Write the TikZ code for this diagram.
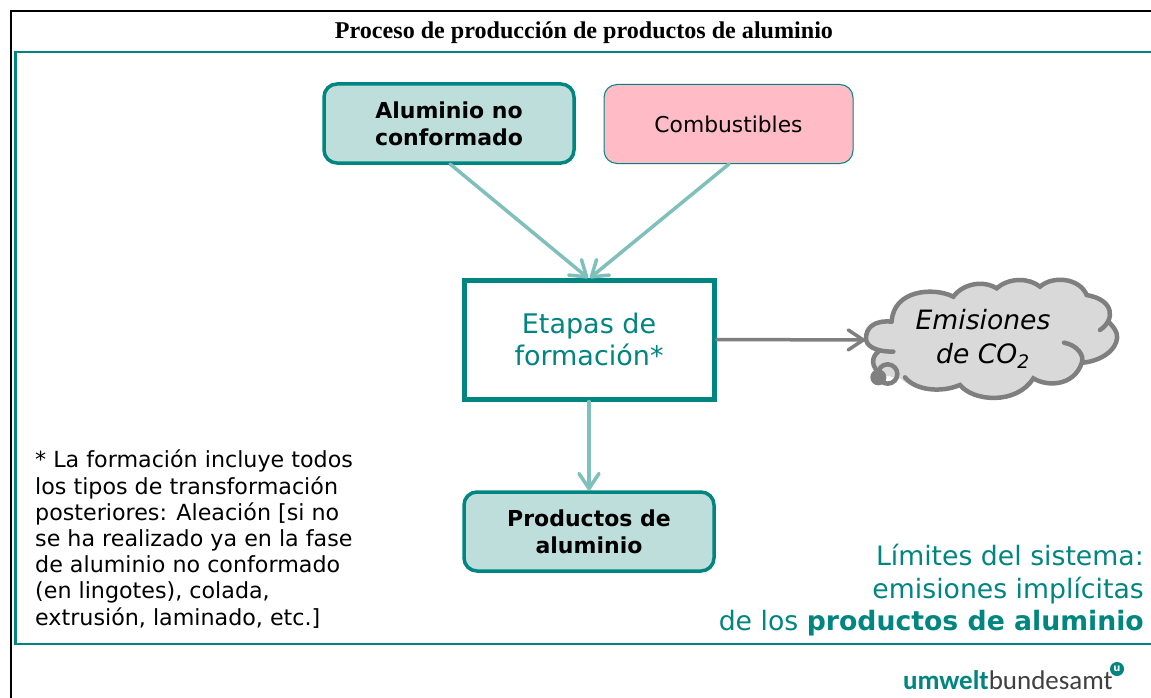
\documentclass[tikz,border=0pt]{standalone}
\usepackage{fontspec}
\setmainfont{DejaVu Sans}
\newfontfamily\titlefont{Liberation Serif}
\newfontfamily\logofont{Carlito}
\usetikzlibrary{arrows.meta}
\definecolor{teal1}{HTML}{008580}
\definecolor{tealL}{HTML}{7FBFBC}
\definecolor{fillT}{HTML}{BEDEDC}
\definecolor{pinkB}{HTML}{FFBBC6}
\definecolor{grayC}{HTML}{7F7F7F}
\definecolor{fillC}{HTML}{D9D9D9}
\tikzset{
  x=1pt,y=-1pt,
  procbox/.style={rounded corners=13pt,draw=teal1,line width=3.5pt,fill=fillT,minimum width=250pt,minimum height=79pt,align=center,inner sep=0pt,font=\fontsize{22}{27}\selectfont\bfseries},
  fuelbox/.style={rounded corners=13pt,draw=teal1,line width=1pt,fill=pinkB,minimum width=249pt,minimum height=79pt,align=center,inner sep=0pt,font=\fontsize{21.8}{27}\selectfont},
  stepbox/.style={draw=teal1,line width=5pt,fill=white,minimum width=250pt,minimum height=119pt,align=center,inner sep=0pt,text=teal1,font=\fontsize{27}{32}\selectfont},
  flow/.style={draw=tealL,line width=3.5pt,line cap=round,-{Straight Barb[round,length=15pt,width=20pt,line width=3.5pt]}},
  emit/.style={draw=grayC,line width=3.5pt,line cap=round,-{Straight Barb[round,length=15pt,width=20pt,line width=3.5pt]}},
  cloudline/.style={draw=grayC,line width=4.5pt,line cap=round},
  frameb/.style={draw=black,line width=2pt},
  framet/.style={draw=teal1,line width=2.2pt},
  note/.style={anchor=north west,align=left,inner sep=0pt,font=\fontsize{22.2}{26.2}\selectfont},
  limit/.style={anchor=north east,align=right,inner sep=0pt,text=teal1,font=\fontsize{26.7}{32.7}\selectfont}
}
\begin{document}
\begin{tikzpicture}
\useasboundingbox (0,0) rectangle (1151,698);
\fill[white] (0,0) rectangle (1151,698);
\draw[frameb] (10.5,698) -- (10.5,11.5) -- (1151,11.5);
\draw[framet] (1151,52) -- (15.5,52) -- (15.5,644) -- (1151,644);
\node[inner sep=0pt,font=\titlefont\fontsize{24.1}{26}\selectfont\bfseries] (title) at (584,32.5) {Proceso de producción de productos de aluminio};
\node[procbox] (alu) at (449,123.5) {Aluminio no\\conformado};
\node[fuelbox] (fuel) at (728.5,124) {Combustibles};
\node[stepbox] (step) at (589,339.5) {Etapas de\\formación*};
\node[procbox] (prod) at (589,531.5) {Productos de\\aluminio};
% cloud
\begin{scope}[shift={(850,270)},x=0.3333pt,y=-0.3333pt]
\fill[fillC] (125,155) .. controls (70,150) and (48,175) .. (48,205)
 .. controls (48,225) and (60,240) .. (85,245)
 .. controls (65,260) and (60,290) .. (95,315)
 -- (150,325) .. controls (190,360) and (270,370) .. (330,345)
 .. controls (370,395) and (500,405) .. (550,325)
 .. controls (590,350) and (670,350) .. (700,280)
 .. controls (770,270) and (810,225) .. (800,190)
 .. controls (795,175) and (785,165) .. (775,155)
 .. controls (795,125) and (760,85) .. (710,75)
 .. controls (690,25) and (610,15) .. (570,50)
 .. controls (540,25) and (480,20) .. (440,55)
 .. controls (400,30) and (340,40) .. (310,80)
 .. controls (250,50) and (130,60) .. (125,155) -- cycle;
\draw[cloudline] (125,155) .. controls (70,150) and (48,175) .. (48,205)
 .. controls (48,225) and (70,245) .. (130,245);
\draw[cloudline] (85,245) .. controls (65,260) and (60,290) .. (95,315);
\draw[cloudline] (165,322) .. controls (195,360) and (270,370) .. (330,345)
 .. controls (370,395) and (500,405) .. (550,325)
 .. controls (590,350) and (670,350) .. (695,280)
 .. controls (705,255) and (680,225) .. (642,218);
\draw[cloudline] (700,278) .. controls (770,270) and (810,225) .. (800,190)
 .. controls (795,175) and (785,165) .. (775,155);
\draw[cloudline] (750,180) .. controls (795,150) and (795,90) .. (710,75)
 .. controls (690,25) and (610,15) .. (570,50)
 .. controls (540,25) and (480,20) .. (440,55)
 .. controls (400,30) and (340,40) .. (310,80)
 .. controls (250,50) and (130,60) .. (125,155);
\fill[grayC] (85,322) circle (24);
\draw[draw=grayC,line width=4.5pt] (113,312) circle (29);
\end{scope}
\node[inner sep=0pt,align=center,font=\fontsize{26.6}{34}\selectfont\itshape] (cloudtext) at (983,339) {Emisiones\\de CO\textsubscript{2}};
\coordinate (cloudin) at (865,340);
\draw[flow] (450,164) -- (588,278);
\draw[flow] (729,164) -- (590,278);
\draw[flow] (step.south) -- (prod.north);
\draw[emit] (step.east) -- (cloudin);
\node[note] (footnote) at (35,450) {* La formación incluye todos\\los tipos de transformación\\posteriores: Aleación [si no\\se ha realizado ya en la fase\\de aluminio no conformado\\(en lingotes), colada,\\extrusión, laminado, etc.]};
\node[limit] (limits) at (1144,544) {Límites del sistema:\\emisiones implícitas\\de los \textbf{productos de aluminio}};
\node[anchor=base east,inner sep=0pt,font=\logofont\fontsize{27}{30}\selectfont,text=black!75] (logo) at (1113,689) {\textcolor{teal1}{\textbf{umwelt}}bundesamt};
\fill[teal1] (1117,669) circle (7);
\node[inner sep=0pt,text=white,font=\fontsize{10}{10}\selectfont\bfseries] (logou) at (1117,668.5) {u};
\end{tikzpicture}
\end{document}
